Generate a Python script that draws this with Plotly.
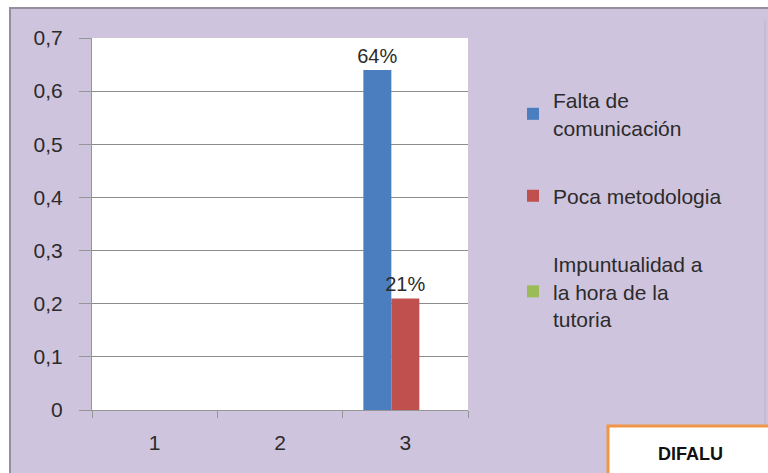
import plotly.graph_objects as go

categories = ["1", "2", "3"]
series_names = ["Falta de<br>comunicación", "Poca metodologia", "Impuntualidad a<br>la hora de la<br>tutoria"]
falta = [None, None, 0.64]
poca = [None, None, 0.21]
impunt = [None, None, 0.0]
labels_falta = ["", "", "64%"]
labels_poca = ["", "", "21%"]
colors = ["#4a7ebf", "#c0504d", "#9bbb59"]

W, H = 768, 473
L, R, T, B = 92, 300, 38, 63
PW, PH = W - L - R, H - T - B


def px(x):
    return (x - L) / PW


def py(y):
    return (H - B - y) / PH


FONT = "Liberation Sans, Arial, sans-serif"
TXT = "#2b2b2b"

fig = go.Figure()
for name, vals, lab, col in [
    (series_names[0], falta, labels_falta, colors[0]),
    (series_names[1], poca, labels_poca, colors[1]),
    (series_names[2], impunt, ["", "", ""], colors[2]),
]:
    fig.add_trace(go.Bar(
        x=categories, y=vals, name=name, marker_color=col, marker_line_width=0,
        text=lab, textposition="outside", cliponaxis=False, constraintext="none",
        textfont=dict(family=FONT, size=20, color=TXT),
        legendgroup=name,
    ))

lav = "rgb(207,196,221)"
shapes = [
    dict(type="rect", xref="paper", yref="paper", x0=px(10), x1=px(800), y0=py(490), y1=py(8),
         fillcolor=lav, line=dict(color="rgb(150,142,160)", width=2), layer="below"),
    dict(type="rect", xref="paper", yref="paper", x0=0, x1=1, y0=0, y1=1,
         fillcolor="white", line_width=0, layer="below"),
    dict(type="line", xref="paper", yref="paper", x0=px(765), x1=px(765), y0=py(20), y1=py(480),
         line=dict(color="rgb(190,182,200)", width=1)),
    dict(type="rect", xref="paper", yref="paper", x0=px(608), x1=px(800), y0=py(426), y1=py(490),
         fillcolor="white", line=dict(color="rgb(240,150,70)", width=3)),
]

fig.update_layout(
    width=W, height=H,
    margin=dict(l=L, r=R, t=T, b=B, pad=0),
    paper_bgcolor="white", plot_bgcolor="white",
    separators=", ",
    barmode="group", bargap=0.33, bargroupgap=0,
    font=dict(family=FONT, size=21, color=TXT),
    showlegend=True,
    legend=dict(x=px(513), y=py(80), xanchor="left", yanchor="top",
                font=dict(family=FONT, size=21, color=TXT),
                tracegroupgap=38, bgcolor="rgba(0,0,0,0)", itemwidth=30),
    xaxis=dict(type="category", range=[-0.5, 2.5], showgrid=False,
               showline=True, linecolor="rgb(150,150,150)", linewidth=1,
               ticks="outside", tickson="boundaries", ticklen=7, tickcolor="rgb(150,150,150)",
               ticklabelstandoff=14, tickfont=dict(size=21, color=TXT)),
    yaxis=dict(range=[0, 0.7], dtick=0.1, tick0=0, showgrid=True,
               gridcolor="rgb(140,140,140)", gridwidth=1, zeroline=False,
               showline=True, linecolor="rgb(150,150,150)", linewidth=1,
               ticks="outside", ticklen=12, tickcolor="rgb(150,150,150)",
               ticklabelstandoff=12, tickfont=dict(size=21, color=TXT)),
    shapes=shapes,
    annotations=[dict(xref="paper", yref="paper", x=px(690), y=py(454), text="<b>DIFALU</b>",
                      xanchor="center", yanchor="middle",
                      showarrow=False, font=dict(family=FONT, size=18, color="#111"))],
)

fig.write_html("out.html", config={"displayModeBar": False},
               post_script="document.body.style.margin='0';document.body.style.overflow='hidden';")
